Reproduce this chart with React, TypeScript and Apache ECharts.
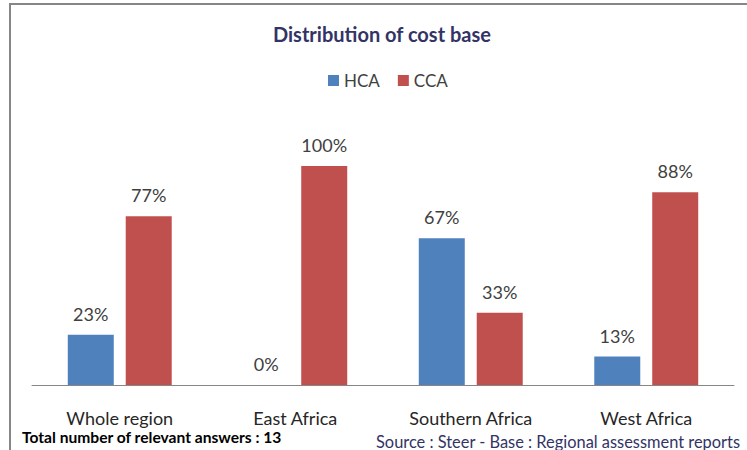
import React, { useEffect, useRef } from "react";
import * as echarts from "echarts";

const categories = ["Whole region", "East Africa", "Southern Africa", "West Africa"];
const hcaValues = [23, 0, 67, 13];
const ccaValues = [77, 100, 33, 88];
const seriesNames = ["HCA", "CCA"];
const titleText = "Distribution of cost base";
const noteLeft = "Total number of relevant answers : 13";
const noteRight = "Source : Steer - Base : Regional assessment reports";

const FONT = "Lato";

export default function App() {
  const ref = useRef<HTMLDivElement>(null);
  useEffect(() => {
    const chart = echarts.init(ref.current!, null, { renderer: "svg" });
    const label = {
      show: true,
      position: "top",
      distance: 12,
      formatter: "{c}%",
      fontSize: 18,
      color: "#404040",
      fontFamily: FONT,
    };
    chart.setOption({
      animation: false,
      backgroundColor: "#ffffff",
      title: {
        text: titleText,
        left: 268,
        top: 19,
        textStyle: { fontFamily: FONT, fontSize: 20, fontWeight: "bold", color: "#333366" },
      },
      legend: {
        top: 67,
        left: 323,
        itemWidth: 11,
        itemHeight: 11,
        itemGap: 18,
        icon: "rect",
        textStyle: { fontSize: 17, color: "#404040", fontFamily: FONT },
        data: seriesNames,
      },
      grid: { left: 32, right: 13, top: 166, bottom: 65, containLabel: false },
      xAxis: {
        type: "category",
        data: categories,
        axisLine: { lineStyle: { color: "#868686", width: 1 } },
        axisTick: { show: false },
        axisLabel: { margin: 24, fontSize: 18, color: "#262626", fontFamily: FONT },
      },
      yAxis: { type: "value", min: 0, max: 100, show: false, splitLine: { show: false } },
      series: [
        {
          name: seriesNames[0],
          type: "bar",
          data: hcaValues,
          barWidth: 46,
          barGap: "26%",
          itemStyle: { color: "#4F81BD" },
          label,
        },
        {
          name: seriesNames[1],
          type: "bar",
          data: ccaValues,
          barWidth: 46,
          barGap: "26%",
          itemStyle: { color: "#C0504D" },
          label,
        },
      ],
      graphic: [
        {
          type: "polyline",
          shape: { points: [[10, 450], [10, 4], [747, 4]] },
          style: { stroke: "#868686", lineWidth: 2, fill: "none" },
        },
        {
          type: "text",
          x: 22,
          y: 437,
          style: {
            text: noteLeft,
            fontFamily: FONT,
            fontSize: 15.6,
            fontWeight: "bold",
            fill: "#000000",
            textVerticalAlign: "middle",
          },
        },
        {
          type: "text",
          x: 740,
          y: 441,
          style: {
            text: noteRight,
            fontFamily: FONT,
            fontSize: 16.4,
            fill: "#333366",
            textAlign: "right",
            textVerticalAlign: "middle",
          },
        },
      ],
    });
    return () => chart.dispose();
  }, []);
  return <div ref={ref} style={{ position: "fixed", left: 0, top: 0, width: 747, height: 450 }} />;
}
